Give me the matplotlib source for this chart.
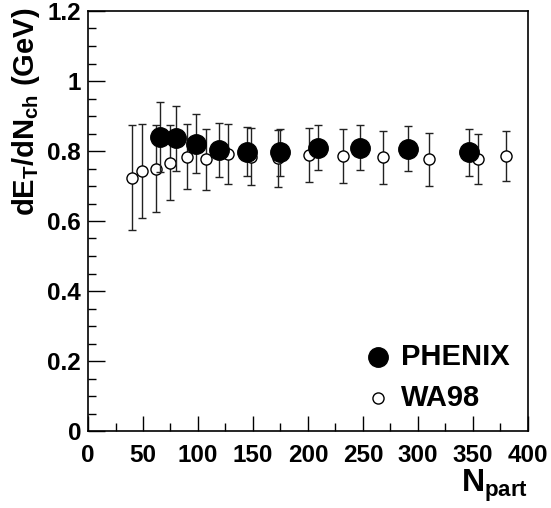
import matplotlib
matplotlib.use("Agg")
import matplotlib.pyplot as plt
from matplotlib.ticker import MultipleLocator

plt.rcParams['font.family'] = ['Liberation Sans', 'DejaVu Sans']
plt.rcParams['font.weight'] = 'bold'
plt.rcParams['mathtext.fontset'] = 'custom'
plt.rcParams['mathtext.rm'] = 'Liberation Sans:bold'
plt.rcParams['mathtext.it'] = 'Liberation Sans:bold'
plt.rcParams['mathtext.bf'] = 'Liberation Sans:bold'

# PHENIX data
phenix_npart = [65.5, 80, 98, 119.5, 144.5, 174.5, 209, 247, 291, 346]
phenix_et = [0.839, 0.836, 0.821, 0.803, 0.798, 0.797, 0.810, 0.810, 0.807, 0.796]
phenix_err = [0.100, 0.092, 0.085, 0.077, 0.070, 0.067, 0.065, 0.065, 0.065, 0.068]

# WA98 data
wa98_npart = [39.7, 49.4, 61.8, 74.5, 89.7, 107.5, 127, 148, 172.5, 201, 231.5, 268.5, 309.7, 354.8, 379.7]
wa98_et = [0.724, 0.742, 0.750, 0.767, 0.783, 0.776, 0.791, 0.784, 0.779, 0.788, 0.786, 0.782, 0.776, 0.777, 0.786]
wa98_err = [0.151, 0.134, 0.125, 0.107, 0.093, 0.088, 0.085, 0.081, 0.081, 0.078, 0.077, 0.076, 0.075, 0.072, 0.072]

x_ticks = [0, 50, 100, 150, 200, 250, 300, 350, 400]
x_ticklabels = ['0', '50', '100', '150', '200', '250', '300', '350', '400']
y_ticks = [0, 0.2, 0.4, 0.6, 0.8, 1.0, 1.2]
y_ticklabels = ['0', '0.2', '0.4', '0.6', '0.8', '1', '1.2']

fig = plt.figure(figsize=(5.51, 5.08), dpi=100)
ax = fig.add_axes([88/551, 1-431/508, 440/551, 420/508])

ax.errorbar(wa98_npart, wa98_et, yerr=wa98_err, fmt='o', ms=8, mfc='white', mec='black',
            mew=1.0, ecolor='#222222', elinewidth=1.0, capsize=2.6, capthick=1.0, zorder=2)
ax.errorbar(phenix_npart, phenix_et, yerr=phenix_err, fmt='o', ms=14, mfc='black', mec='black',
            ecolor='#222222', elinewidth=1.0, capsize=2.6, capthick=1.0, zorder=3)

ax.set_xlim(0, 400)
ax.set_ylim(0, 1.2)
ax.set_xticks(x_ticks)
ax.set_xticklabels(x_ticklabels)
ax.set_yticks(y_ticks)
ax.set_yticklabels(y_ticklabels)
ax.xaxis.set_minor_locator(MultipleLocator(25))
ax.yaxis.set_minor_locator(MultipleLocator(0.05))
ax.tick_params(which='both', direction='in', top=False, right=False, labelsize=17.5, width=1.0)
ax.tick_params(which='major', axis='x', length=11, pad=9)
ax.tick_params(which='minor', axis='x', length=5.5)
ax.tick_params(which='major', axis='y', length=12, pad=5)
ax.tick_params(which='minor', axis='y', length=6)
for sp in ax.spines.values():
    sp.set_linewidth(1.2)

# legend
ax.plot([0.659], [0.176], transform=ax.transAxes, marker='o', ms=14, mfc='black', mec='black', ls='none')
ax.plot([0.659], [0.079], transform=ax.transAxes, marker='o', ms=8, mfc='white', mec='black', mew=1.0, ls='none')
ax.text(0.711, 0.176, 'PHENIX', transform=ax.transAxes, fontsize=21, fontweight='bold', va='center', ha='left')
ax.text(0.711, 0.079, 'WA98', transform=ax.transAxes, fontsize=21, fontweight='bold', va='center', ha='left')

fig.text(10/551, 1-8/508, r'$dE_{T}/dN_{ch}$ (GeV)', rotation=90, ha='left', va='top', fontsize=21, fontweight='bold')
fig.text(528/551, 1-468/508, r'$N_{part}$', ha='right', va='top', fontsize=23, fontweight='bold')

fig.savefig('out.png', dpi=100)
